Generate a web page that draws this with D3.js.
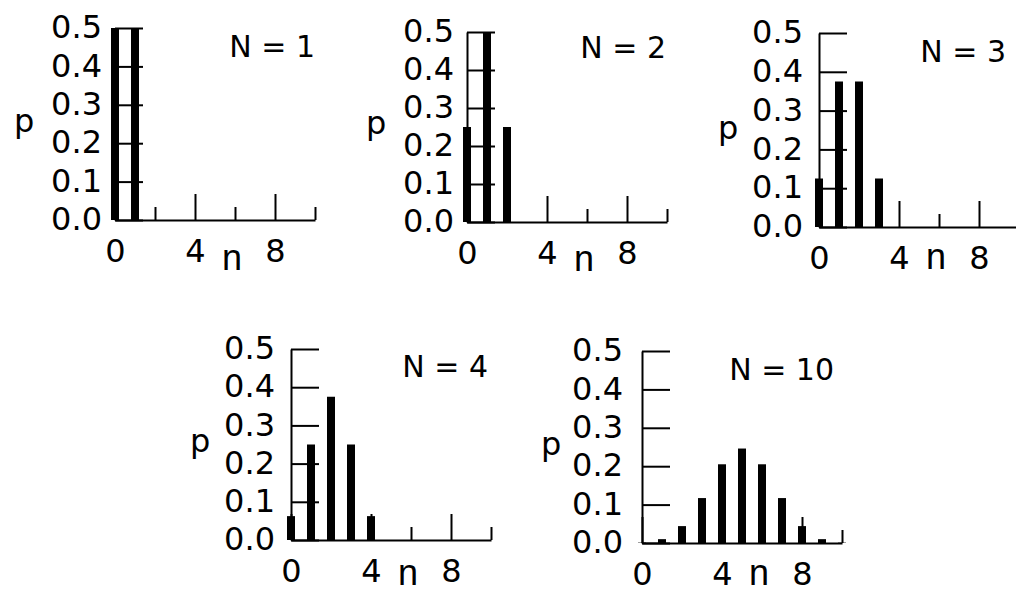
<!DOCTYPE html>
<html>
<head>
<meta charset="utf-8">
<script src="https://cdn.jsdelivr.net/npm/d3@7"></script>
<style>
  html, body { margin: 0; padding: 0; background: #fff; }
  svg { display: block; }
</style>
</head>
<body>
<svg id="chart" width="1016" height="593"></svg>
<script>
// ---- data ----
const panelTitles = ["N = 1", "N = 2", "N = 3", "N = 4", "N = 10"];
const probsN1  = [0.5, 0.5];
const probsN2  = [0.25, 0.5, 0.25];
const probsN3  = [0.125, 0.375, 0.375, 0.125];
const probsN4  = [0.0625, 0.25, 0.375, 0.25, 0.0625];
const probsN10 = [0.001, 0.010, 0.044, 0.117, 0.205, 0.246, 0.205, 0.117, 0.044, 0.010, 0.001];
const yTickValues = [0, 0.1, 0.2, 0.3, 0.4, 0.5];
const xLabelTicks = [0, 4, 8];
const xMinorTicks = [2, 6, 10];
const xAxisLabel = "n";
const yAxisLabel = "p";

const seriesList = [probsN1, probsN2, probsN3, probsN4, probsN10];

// ---- layout (pixel placement of each small panel) ----
const layout = [
  { x0: 115, y0: 220, yTop: 28,  yPad: 13, titleX: 315,  titleY: 57,  nY: 270 },
  { x0: 467, y0: 222, yTop: 32,  yPad: 13, titleX: 666,  titleY: 58,  nY: 271 },
  { x0: 819, y0: 227, yTop: 33,  yPad: 16, titleX: 1006, titleY: 62,  nY: 269 },
  { x0: 291, y0: 540, yTop: 349, yPad: 16, titleX: 488,  titleY: 377, nY: 585 },
  { x0: 642, y0: 543, yTop: 351, yPad: 19, titleX: 834,  titleY: 380, nY: 585 }
];

const svg = d3.select("#chart");
const FONT = "DejaVu Sans";

seriesList.forEach((vals, i) => {
  const L = layout[i];
  const x = d3.scaleLinear().domain([0, 10]).range([L.x0, L.x0 + 200]);
  const y = d3.scaleLinear().domain([0, 0.5]).range([L.y0, L.yTop]);
  const g = svg.append("g");

  // y axis
  const ya = g.append("g")
    .attr("transform", `translate(${L.x0},0)`)
    .call(d3.axisLeft(y).tickValues(yTickValues).tickFormat(d3.format(".1f"))
      .tickSizeInner(-28).tickSizeOuter(0).tickPadding(L.yPad));
  ya.attr("font-family", FONT).attr("font-size", 32);
  ya.selectAll("path, line").attr("stroke", "#000").attr("stroke-width", 2);
  ya.selectAll("text").attr("fill", "#000").attr("dy", "0.3em");

  // x axis with labelled (major) ticks
  const xa = g.append("g")
    .attr("transform", `translate(0,${L.y0})`)
    .call(d3.axisBottom(x).tickValues(xLabelTicks).tickFormat(d3.format("d"))
      .tickSizeInner(-26).tickSizeOuter(0).tickPadding(19));
  xa.attr("font-family", FONT).attr("font-size", 32);
  xa.selectAll("path, line").attr("stroke", "#000").attr("stroke-width", 2);
  xa.selectAll("text").attr("fill", "#000");

  // minor ticks
  const xm = g.append("g")
    .attr("transform", `translate(0,${L.y0})`)
    .call(d3.axisBottom(x).tickValues(xMinorTicks).tickFormat("")
      .tickSizeInner(-13).tickSizeOuter(0));
  xm.select(".domain").remove();
  xm.selectAll("line").attr("stroke", "#000").attr("stroke-width", 2);

  // bars
  g.selectAll("rect.bar").data(vals).join("rect")
    .attr("class", "bar")
    .attr("x", (d, k) => x(k) - 4)
    .attr("width", 8)
    .attr("y", d => y(d))
    .attr("height", d => y(0) - y(d))
    .attr("fill", "#000");

  // axis labels
  g.append("text")
    .attr("x", L.x0 - 101).attr("y", L.y0 - 88)
    .attr("font-family", FONT).attr("font-size", 32)
    .text(yAxisLabel);
  g.append("text")
    .attr("x", x(5.85)).attr("y", L.nY)
    .attr("text-anchor", "middle")
    .attr("font-family", "Liberation Sans").attr("font-size", 36)
    .text(xAxisLabel);

  // panel title
  g.append("text")
    .attr("x", L.titleX).attr("y", L.titleY)
    .attr("text-anchor", "end")
    .attr("font-family", FONT).attr("font-size", 30)
    .text(panelTitles[i]);
});
</script>
</body>
</html>
